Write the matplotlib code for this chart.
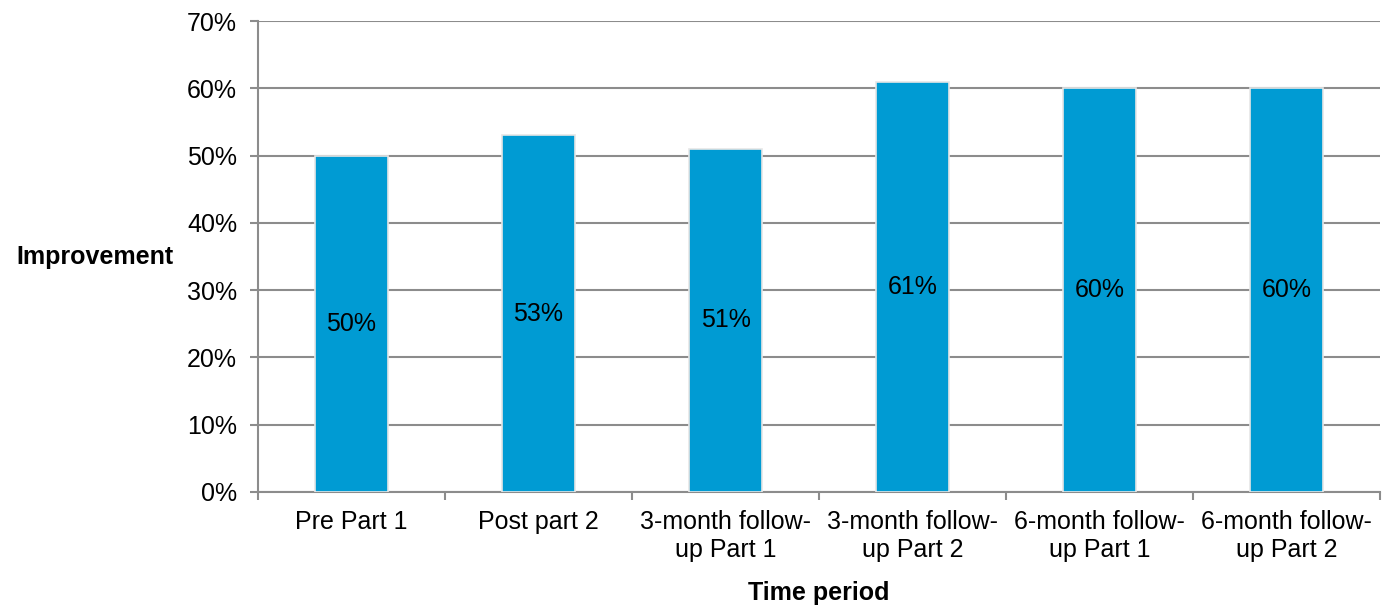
import matplotlib.pyplot as plt
import numpy as np

plt.rcParams['font.family'] = ['Liberation Sans', 'DejaVu Sans']

# Data
categories = ['Pre Part 1', 'Post part 2', '3-month follow-\nup Part 1',
              '3-month follow-\nup Part 2', '6-month follow-\nup Part 1',
              '6-month follow-\nup Part 2']
values = [50, 53, 51, 61, 60, 60]

fig = plt.figure(figsize=(13.87, 6.05), dpi=100)
ax = fig.add_axes([0.186, 0.187, 0.809, 0.778])

x = np.arange(len(categories))
bars = ax.bar(x, values, width=0.39, color='#009BD3', edgecolor='#e6e6e6',
              linewidth=1.2, zorder=3)

for xi, v in zip(x, values):
    ax.text(xi, v / 2, f'{v}%', ha='center', va='center', fontsize=18,
            color='black', zorder=4)

ax.set_xlim(-0.5, len(categories) - 0.5)
ax.set_ylim(0, 70)
ax.set_yticks(np.arange(0, 71, 10))
ax.set_yticklabels([f'{t}%' for t in range(0, 71, 10)], fontsize=18)
ax.yaxis.grid(True, color='#8c8c8c', linewidth=1.5, zorder=0)

# category labels centered, ticks at boundaries
ax.set_xticks(x)
ax.set_xticklabels(categories, fontsize=18, linespacing=1.2)
ax.tick_params(axis='x', which='major', length=0, pad=13)
ax.set_xticks(np.arange(-0.5, len(categories)), minor=True)
ax.tick_params(axis='x', which='minor', length=6, width=1.5, color='#8c8c8c')
ax.tick_params(axis='y', length=6, width=1.5, color='#8c8c8c', pad=9)

for s in ['top', 'right']:
    ax.spines[s].set_visible(False)
for s in ['left', 'bottom']:
    ax.spines[s].set_color('#8c8c8c')
    ax.spines[s].set_linewidth(1.5)

ax.set_ylabel('Improvement', fontsize=18, fontweight='bold', rotation=0,
              ha='right', va='center', labelpad=10)
ax.set_xlabel('Time period', fontsize=18, fontweight='bold', labelpad=14)

fig.savefig('out.png', dpi=100)
